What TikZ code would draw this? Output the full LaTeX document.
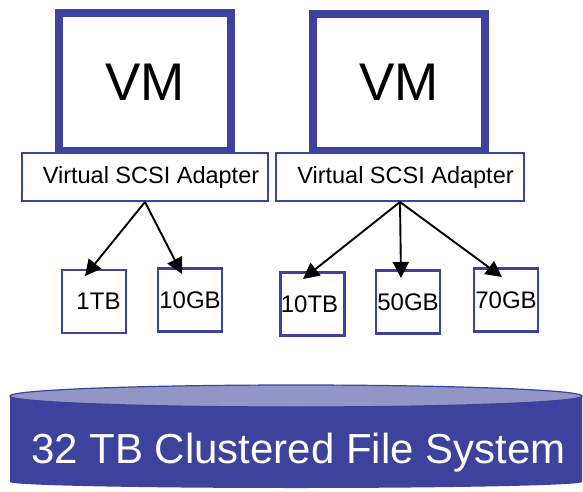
\documentclass[tikz,border=0pt]{standalone}
\usepackage{fontspec}
\setmainfont{Liberation Sans}
\usetikzlibrary{arrows.meta,calc}
\definecolor{vmblue}{RGB}{61,66,156}
\definecolor{toplight}{RGB}{146,150,199}
\begin{document}
\begin{tikzpicture}[x=1pt,y=-1pt,
  vmbox/.style={draw=vmblue, line width=8pt, minimum width=172pt, minimum height=137.5pt, inner sep=0pt, font=\fontsize{53}{60}\selectfont},
  adapter/.style={draw=vmblue, fill=white, line width=2pt, minimum height=48pt, inner sep=0pt, font=\fontsize{23.5}{28}\selectfont},
  disk/.style={draw=vmblue, line width=2.5pt, minimum width=64pt, minimum height=63pt, inner sep=0pt, font=\fontsize{24}{28}\selectfont},
  arr/.style={draw=black, line width=1.9pt, -{Triangle[length=16pt,width=16pt]}}]
\useasboundingbox (0,0) rectangle (583,492);
% VMs
\node[vmbox] (vm1) at (145,82.25) {VM};
\node[vmbox] (vm2) at (399,82.5) {VM};
% adapters
\node[adapter, minimum width=246pt] (ad1) at (145,177) {\hspace*{12pt}Virtual SCSI Adapter};
\node[adapter, minimum width=248pt] (ad2) at (400,177) {\hspace*{11pt}Virtual SCSI Adapter};
% disks
\node[disk] (d1) at (94,301.5) {\hspace*{9pt}1TB};
\node[disk] (d2) at (190,300) {10GB};
\node[disk] (d3) at (312.5,304) {10TB\hspace*{6pt}};
\node[disk] (d4) at (408,302) {50GB};
\node[disk] (d5) at (506,300) {70GB};
% arrows
\draw[arr] (ad1.south) -- ($(d1.north)+(-9,7.25)$);
\draw[arr] (ad1.south) -- ($(d2.north)+(-8,6.75)$);
\draw[arr] (ad2.south) -- ($(d3.north)+(-9.5,7.75)$);
\draw[arr] (ad2.south) -- ($(d4.north)+(-7,8.75)$);
\draw[arr] (ad2.south) -- ($(d5.north)+(-4,9.75)$);
% cylinder
\fill[vmblue] (10,396) -- (10,482) arc[start angle=180, end angle=0, x radius=286, y radius=6] -- (582,396) -- cycle;
\draw[vmblue, fill=toplight, line width=1.2pt] (296,396) ellipse[x radius=286, y radius=11];
\node[text=white, font=\fontsize{42}{50}\selectfont, anchor=base, inner sep=0pt] (fs) at (298.5,463) {32 TB Clustered File System};
\end{tikzpicture}
\end{document}
